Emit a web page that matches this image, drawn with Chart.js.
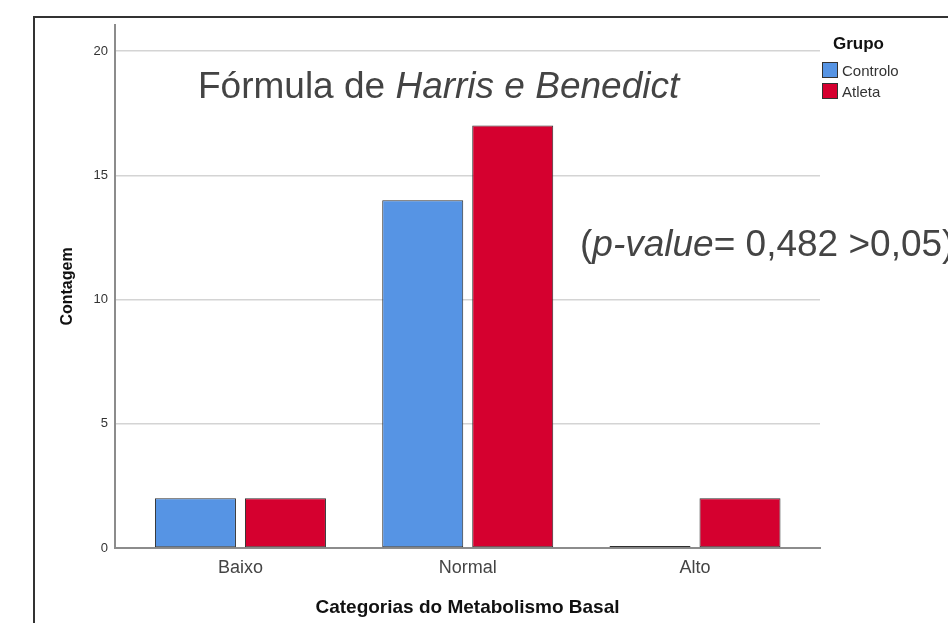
<!DOCTYPE html>
<html>
<head>
<meta charset="utf-8">
<script src="https://cdn.jsdelivr.net/npm/chart.js@4.4.0/dist/chart.umd.min.js"></script>
<style>
    html, body { margin: 0; padding: 0; background: #fff; }
    #wrap { position: relative; width: 948px; height: 623px; overflow: hidden; font-family: "Liberation Sans", Arial, sans-serif; }
    #grafico { position: absolute; left: 0; top: 0; }
    #moldura { position: absolute; left: 33px; top: 16px; width: 1000px; height: 700px; border-top: 2px solid #333; border-left: 2px solid #333; pointer-events: none; }
    .nota { position: absolute; white-space: nowrap; color: #444; line-height: 1; }
    #titulo { left: 198px; top: 67px; font-size: 37px; }
    #pvalor { left: 580px; top: 225px; font-size: 37px; }
    #legenda { position: absolute; left: 822px; top: 34px; color: #333; }
    #legenda .tit { font-weight: bold; font-size: 17px; color: #111; margin-left: 11px; height: 26px; }
    #legenda .item { display: flex; align-items: center; height: 20.7px; font-size: 15px; }
    #legenda .caixa { width: 14px; height: 14px; border: 1px solid #333; margin-right: 4px; }
</style>
</head>
<body>
<div id="wrap">
    <canvas id="grafico" width="948" height="623"></canvas>
    <div id="moldura"></div>
    <div class="nota" id="titulo">Fórmula de <i>Harris e Benedict</i></div>
    <div class="nota" id="pvalor">(<i>p-value</i>= 0,482 &gt;0,05)</div>
    <div id="legenda"><div class="tit">Grupo</div></div>
</div>
<script>
// Dados
const categorias = ['Baixo', 'Normal', 'Alto'];
const grupos = ['Controlo', 'Atleta'];
const controlo = [2, 14, 0];
const atleta = [2, 17, 2];
const ticksY = [0, 5, 10, 15, 20];
const cores = ['#5694e4', '#d5002f'];

document.addEventListener('DOMContentLoaded', function () {
    const series = [controlo, atleta];

    // Legenda em HTML (canto superior direito)
    const legenda = document.getElementById('legenda');
    grupos.forEach(function (g, i) {
        const item = document.createElement('div');
        item.className = 'item';
        const caixa = document.createElement('span');
        caixa.className = 'caixa';
        caixa.style.background = cores[i];
        item.appendChild(caixa);
        item.appendChild(document.createTextNode(g));
        legenda.appendChild(item);
    });

    const ctx = document.getElementById('grafico').getContext('2d');
    new Chart(ctx, {
        type: 'bar',
        data: {
            datasets: grupos.map(function (g, i) {
                return {
                    label: g,
                    data: series[i].map((v, k) => ({ x: k, y: v })),
                    backgroundColor: cores[i],
                    borderColor: '#2e2e2e',
                    borderWidth: 1,
                    borderSkipped: false,
                    minBarLength: 2, // barra de zero aparece como traço
                    categoryPercentage: 0.792,
                    barPercentage: 0.9,
                };
            })
        },
        options: {
            responsive: false,
            animation: false,
            layout: { padding: { top: 25, right: 128, bottom: 0, left: 0 } },
            font: { family: '"Liberation Sans", Arial, sans-serif' },
            plugins: { legend: { display: false }, tooltip: { enabled: false } },
            scales: {
                x: {
                    type: 'linear',
                    min: -0.552,
                    max: 2.55,
                    offset: false,
                    afterBuildTicks: s => { s.ticks = categorias.map((c, i) => ({ value: i })); },
                    afterFit: s => { s.height = 75; },
                    grid: { display: false, drawTicks: false, offset: false },
                    border: { display: true, color: '#8c8c8c', width: 2 },
                    ticks: {
                        padding: 9,
                        color: '#444',
                        font: { size: 18 },
                        callback: v => categorias[v]
                    },
                    title: {
                        display: true,
                        text: 'Categorias do Metabolismo Basal',
                        color: '#111',
                        font: { size: 19, weight: 'bold' },
                        padding: { top: 0, bottom: 4 }
                    }
                },
                y: {
                    min: 0,
                    max: 21.05,
                    afterBuildTicks: s => { s.ticks = ticksY.map(v => ({ value: v })); },
                    afterFit: s => { s.width = 115; },
                    grid: { color: '#d4d4d4', lineWidth: 1.5, drawTicks: false },
                    border: { color: '#8c8c8c', width: 2 },
                    ticks: { padding: 7, color: '#333', font: { size: 13 } },
                    title: {
                        display: true,
                        text: 'Contagem',
                        color: '#111',
                        font: { size: 16, weight: 'bold' },
                        padding: { top: 58, bottom: 0 }
                    }
                }
            }
        }
    });
});
</script>
</body>
</html>
